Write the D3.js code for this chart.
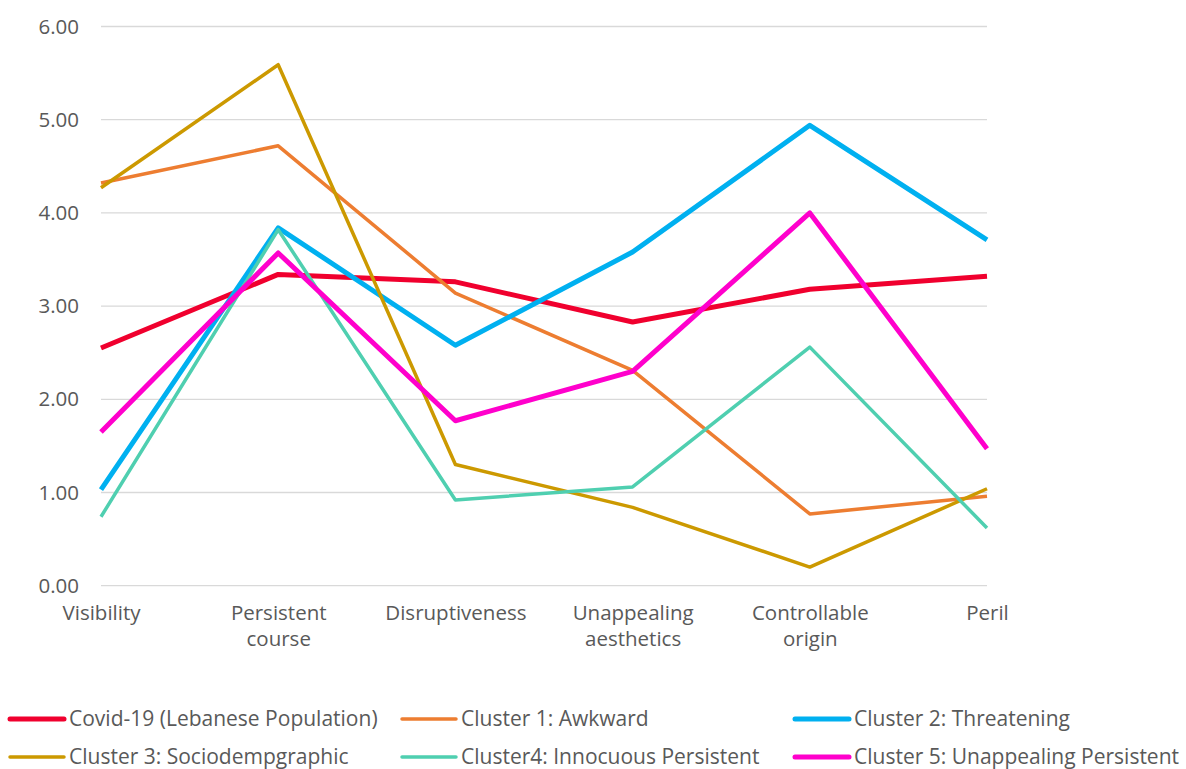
<!DOCTYPE html>
<html>
<head>
<meta charset="utf-8">
<script src="https://cdn.jsdelivr.net/npm/d3@7"></script>
<style>
  html, body { margin: 0; padding: 0; background: #ffffff; }
  svg { display: block; font-family: "Open Sans", Lato, sans-serif; }
</style>
</head>
<body>
<svg id="chart" width="1186" height="769"></svg>
<script>
// Dimensions rated on each attribute, per group
const categories = ["Visibility", "Persistent course", "Disruptiveness", "Unappealing aesthetics", "Controllable origin", "Peril"];
const yTicks = [0, 1, 2, 3, 4, 5, 6];

const seriesNames = [
  "Covid-19 (Lebanese Population)",
  "Cluster 1: Awkward",
  "Cluster 2: Threatening",
  "Cluster 3: Sociodempgraphic",
  "Cluster4: Innocuous Persistent",
  "Cluster 5: Unappealing Persistent"
];
const covid19  = [2.55, 3.34, 3.26, 2.83, 3.18, 3.32];
const cluster1 = [4.32, 4.72, 3.14, 2.31, 0.77, 0.96];
const cluster2 = [1.03, 3.84, 2.58, 3.58, 4.94, 3.71];
const cluster3 = [4.27, 5.59, 1.30, 0.84, 0.20, 1.04];
const cluster4 = [0.74, 3.82, 0.92, 1.06, 2.56, 0.62];
const cluster5 = [1.65, 3.57, 1.77, 2.30, 4.00, 1.47];

const seriesColors = ["#F0002E", "#ED7D31", "#00B0F0", "#CC9900", "#4FCFB0", "#FF00CC"];
const seriesWidths = [5, 3.5, 5, 3.5, 3.5, 5];

const allSeries = [covid19, cluster1, cluster2, cluster3, cluster4, cluster5].map((values, i) => ({
  name: seriesNames[i], values, color: seriesColors[i], width: seriesWidths[i]
}));

const svg = d3.select("#chart");
const textColor = "#595959";
const axisFontSize = "20.5px";
const legendFontSize = "21px";

const x = d3.scalePoint().domain(categories).range([101, 987]).padding(0);
const y = d3.scaleLinear().domain([0, 6]).range([585.7, 26.5]);

// Horizontal gridlines
svg.append("g")
  .selectAll("line")
  .data(yTicks)
  .join("line")
  .attr("x1", x.range()[0])
  .attr("x2", x.range()[1])
  .attr("y1", d => y(d))
  .attr("y2", d => y(d))
  .attr("stroke", "#D9D9D9")
  .attr("stroke-width", 1.3);

// Y axis labels
const yAxis = svg.append("g")
  .attr("transform", "translate(79,0)")
  .call(d3.axisLeft(y).tickValues(yTicks).tickFormat(d3.format(".2f")).tickSize(0).tickPadding(0));
yAxis.select(".domain").remove();
yAxis.selectAll("text")
  .attr("fill", textColor)
  .style("font-size", axisFontSize)
  .style("font-family", "'Open Sans', Lato, sans-serif");

// X axis labels (wrapped onto two lines where the name has two words)
const xAxis = svg.append("g")
  .attr("transform", `translate(0,${y(0)})`)
  .call(d3.axisBottom(x).tickSize(0).tickPadding(0));
xAxis.select(".domain").remove();
xAxis.selectAll("text")
  .attr("fill", textColor)
  .style("font-size", axisFontSize)
  .style("font-family", "'Open Sans', Lato, sans-serif")
  .attr("dy", null)
  .attr("y", 0)
  .each(function(d) {
    const t = d3.select(this);
    t.text(null);
    d.split(" ").forEach((word, i) => {
      t.append("tspan")
        .attr("x", 0)
        .attr("y", 34 + i * 26)
        .text(word);
    });
  });

// Series lines
const line = d3.line()
  .x((d, i) => x(categories[i]))
  .y(d => y(d));

svg.append("g")
  .selectAll("path")
  .data(allSeries)
  .join("path")
  .attr("d", d => line(d.values))
  .attr("fill", "none")
  .attr("stroke", d => d.color)
  .attr("stroke-width", d => d.width)
  .attr("stroke-linejoin", "round")
  .attr("stroke-linecap", "butt");

// Legend: three columns, two rows
const legendCols = [10, 402, 795];
const legendRows = [719, 757];
const legend = svg.append("g")
  .selectAll("g")
  .data(allSeries)
  .join("g")
  .attr("transform", (d, i) => `translate(${legendCols[i % 3]},${legendRows[Math.floor(i / 3)]})`);

legend.append("line")
  .attr("x1", 0)
  .attr("x2", 54)
  .attr("stroke", d => d.color)
  .attr("stroke-width", d => d.width)
  .attr("stroke-linecap", "round");

legend.append("text")
  .attr("x", 59)
  .attr("dy", "0.35em")
  .attr("fill", textColor)
  .style("font-size", legendFontSize)
  .text(d => d.name);
</script>
</body>
</html>
